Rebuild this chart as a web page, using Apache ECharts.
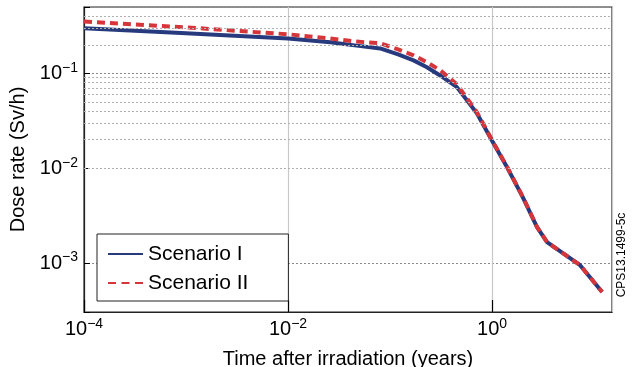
<!DOCTYPE html>
<html>
<head>
<meta charset="utf-8">
<script src="https://cdn.jsdelivr.net/npm/echarts@6/dist/echarts.min.js"></script>
<style>
html,body{margin:0;padding:0;background:#fff;}
#c{width:633px;height:367px;}
</style>
</head>
<body>
<div id="c"></div>
<script>
// Time after irradiation (years)
var timeYears = [1e-4, 1e-3, 1e-2, 0.026, 0.045, 0.08, 0.12, 0.17, 0.23, 0.31, 0.45, 0.71, 1.02, 1.4, 2.0, 2.76, 3.46, 7.3, 12];
// Dose rate (Sv/h)
var scenarioI  = [0.298, 0.264, 0.233, 0.212, 0.197, 0.183, 0.158, 0.137, 0.116, 0.095, 0.072, 0.038, 0.0188, 0.0103, 0.00496, 0.00239, 0.00166, 0.00095, 0.000495];
var scenarioII = [0.352, 0.305, 0.258, 0.233, 0.217, 0.207, 0.179, 0.155, 0.131, 0.108, 0.077, 0.039, 0.019, 0.0104, 0.005, 0.0024, 0.00166, 0.00095, 0.000495];
var seriesNames = ['Scenario I', 'Scenario II'];
// minor horizontal grid values
var minorGridY = [0.0004,0.0005,0.0006,0.0007,0.0008,0.0009,
  0.002,0.003,0.004,0.005,0.006,0.007,0.008,0.009,
  0.02,0.03,0.04,0.05,0.06,0.07,0.08,0.09,
  0.2,0.3,0.4];

function pairs(xs, ys){ return xs.map(function(x,i){ return [x, ys[i]]; }); }
function powLabel(v){
  var e = Math.log10(v);
  var r = Math.round(e);
  if (Math.abs(e - r) > 1e-6) return '';
  var s = r < 0 ? '\u2212' + (-r) : '' + r;
  return '{b|10}{s|' + s + '}';
}
var richLab = {
  b: {fontSize: 20, fontFamily: 'Liberation Sans', color: '#000'},
  s: {fontSize: 14, fontFamily: 'Liberation Sans', color: '#000', verticalAlign: 'top', padding: [0,0,11,0]}
};
var FONT = 'Liberation Sans';

var chart = echarts.init(document.getElementById('c'));
chart.setOption({
  animation: false,
  backgroundColor: '#fff',
  grid: {left: 84, top: 7, right: 21, bottom: 55, show: true, borderColor: '#222', borderWidth: 1.2,
         containLabel: false, outerBoundsMode: 'none'},
  legend: {
    orient: 'vertical', left: 97, top: 234,
    data: [
      {name: seriesNames[0], icon: 'rect'},
      {name: seriesNames[1], icon: 'path://M0,0h8v2h-8z M13.5,0h8v2h-8z M27,0h8v2h-8z'}
    ],
    itemWidth: 35, itemHeight: 2, itemGap: 7,
    padding: [9, 40, 7, 11],
    borderColor: '#222', borderWidth: 1, backgroundColor: '#fff',
    textStyle: {fontSize: 21, lineHeight: 22, fontFamily: FONT, color: '#000'}
  },
  xAxis: {
    type: 'log', logBase: 10, min: 1e-4, max: 15, interval: 2,
    name: 'Time after irradiation (years)', nameLocation: 'middle', nameGap: 37,
    nameTextStyle: {fontSize: 20, fontFamily: FONT, color: '#000'},
    axisLine: {show: true, lineStyle: {color: '#222', width: 1.2}},
    axisTick: {show: true, inside: true, length: 12, lineStyle: {color: '#000', width: 1.2}},
    axisLabel: {formatter: powLabel, rich: richLab, margin: 5, showMaxLabel: false},
    splitLine: {show: true, lineStyle: {color: '#c8c8c8', width: 1.2}}
  },
  yAxis: {
    type: 'log', logBase: 10, min: 3.05e-4, max: 0.5,
    name: 'Dose rate (Sv/h)', nameLocation: 'middle', nameGap: 50,
    nameTextStyle: {fontSize: 20, fontFamily: FONT, color: '#000'},
    axisLine: {show: true, lineStyle: {color: '#222', width: 1.2}},
    axisTick: {show: true, inside: true, length: 6, lineStyle: {color: '#000'}},
    axisLabel: {formatter: powLabel, rich: richLab, margin: 6},
    splitLine: {show: true, lineStyle: {color: '#8a8a8a', width: 1, type: [2, 2]}}
  },
  series: [
    {
      name: seriesNames[0], type: 'line', data: pairs(timeYears, scenarioI),
      showSymbol: false, symbol: 'none', z: 3,
      lineStyle: {color: '#283a7e', width: 4, join: 'round'},
      itemStyle: {color: '#283a7e'},
      markLine: {
        silent: true, symbol: 'none', label: {show: false}, animation: false,
        lineStyle: {color: '#b0b0b0', width: 1, type: [2, 2]},
        data: minorGridY.map(function(v){ return {yAxis: v}; })
      }
    },
    {
      name: seriesNames[1], type: 'line', data: pairs(timeYears, scenarioII),
      showSymbol: false, symbol: 'none', z: 4,
      lineStyle: {color: '#d6363a', width: 4, type: [8, 5], join: 'round'},
      itemStyle: {color: '#d6363a'}
    }
  ],
  graphic: [{
    type: 'text', x: 622, y: 255, rotation: Math.PI / 2,
    style: {text: 'CPS13.1499-5c', fontSize: 12, fontFamily: FONT, fill: '#000', align: 'center', verticalAlign: 'middle'}
  }]
});
</script>
</body>
</html>
